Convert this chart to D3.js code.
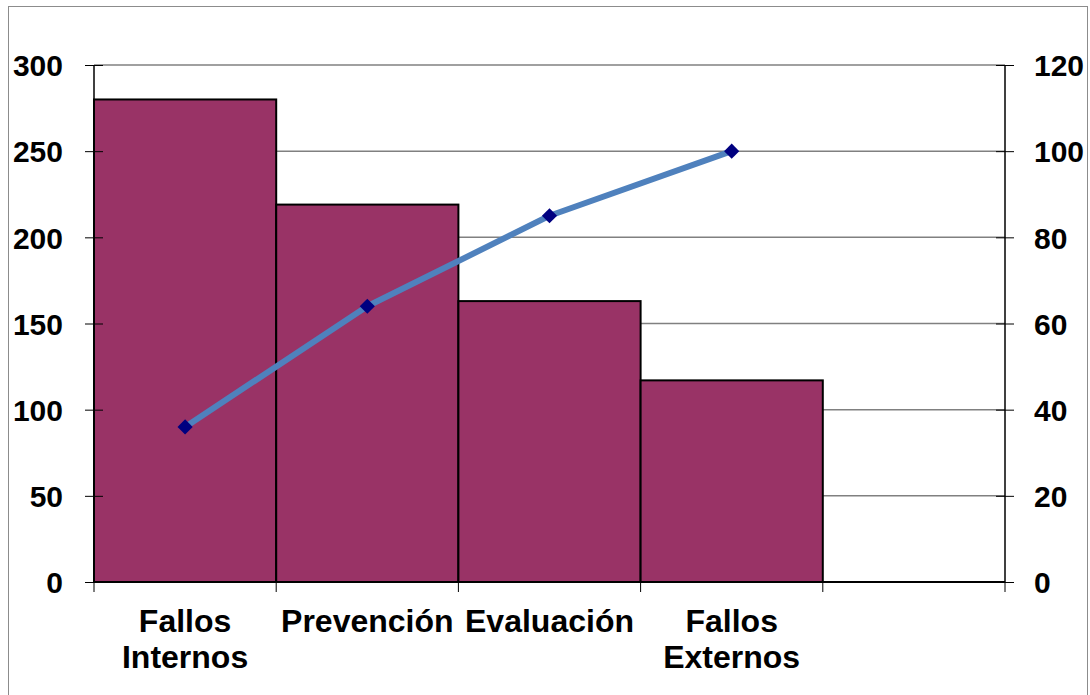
<!DOCTYPE html>
<html>
<head>
<meta charset="utf-8">
<script src="https://cdn.jsdelivr.net/npm/d3@7"></script>
<style>
  html, body { margin: 0; padding: 0; background: #ffffff; }
  svg { display: block; }
  text { font-family: "Liberation Sans", Arial, sans-serif; font-weight: bold; fill: #000; }
</style>
</head>
<body>
<svg id="chart" width="1090" height="695"></svg>
<script>
// Costes de calidad: barras por categoría y porcentaje acumulado (Pareto)
const categories = ["Fallos Internos", "Prevención", "Evaluación", "Fallos Externos", ""];
const categoryLines = [["Fallos", "Internos"], ["Prevención"], ["Evaluación"], ["Fallos", "Externos"], []];
const costs = [280, 219, 163, 117];
const cumulativePct = [36, 64, 85, 100];
const leftTicks = [0, 50, 100, 150, 200, 250, 300];
const rightTicks = [0, 20, 40, 60, 80, 100, 120];

const svg = d3.select("#chart");
const plot = { left: 94, right: 1005, top: 65, bottom: 582 };

// Chart frame
svg.append("rect")
  .attr("x", 8.5).attr("y", 6.5)
  .attr("width", 1079).attr("height", 700)
  .attr("fill", "#fff").attr("stroke", "#8c8c8c").attr("stroke-width", 1);

const x = d3.scaleBand().domain(categories).range([plot.left, plot.right]).paddingInner(0).paddingOuter(0);
const yL = d3.scaleLinear().domain([0, 300]).range([plot.bottom, plot.top]);
const yR = d3.scaleLinear().domain([0, 120]).range([plot.bottom, plot.top]);

// Horizontal gridlines
svg.append("g").selectAll("line").data(leftTicks.filter(d => d > 0)).join("line")
  .attr("x1", plot.left).attr("x2", plot.right)
  .attr("y1", d => yL(d)).attr("y2", d => yL(d))
  .attr("stroke", "#808080").attr("stroke-width", 1.5);

// Bars
svg.append("g").selectAll("rect").data(costs).join("rect")
  .attr("x", (d, i) => x(categories[i]))
  .attr("y", d => yL(d))
  .attr("width", x.bandwidth())
  .attr("height", d => yL(0) - yL(d))
  .attr("fill", "#993366")
  .attr("stroke", "#000").attr("stroke-width", 2);

// Left axis
const axL = svg.append("g").attr("transform", `translate(${plot.left},0)`)
  .call(d3.axisLeft(yL).tickValues(leftTicks).tickSize(9));
axL.select(".domain").attr("stroke", "#000").attr("stroke-width", 1.5).attr("d", `M0,${plot.top}V${plot.bottom}`);
axL.selectAll(".tick line").attr("stroke", "#000").attr("x2", -9).attr("x1", 9);
axL.selectAll(".tick text").attr("font-size", 30).attr("font-family", "Liberation Sans, Arial, sans-serif")
  .attr("font-weight", "bold").attr("fill", "#000").attr("x", -31).attr("dy", "0.36em");

// Right axis
const axR = svg.append("g").attr("transform", `translate(${plot.right},0)`)
  .call(d3.axisRight(yR).tickValues(rightTicks).tickSize(9));
axR.select(".domain").attr("stroke", "#000").attr("stroke-width", 1.5).attr("d", `M0,${plot.top}V${plot.bottom}`);
axR.selectAll(".tick line").attr("stroke", "#000").attr("x1", -9).attr("x2", 9);
axR.selectAll(".tick text").attr("font-size", 30).attr("font-family", "Liberation Sans, Arial, sans-serif")
  .attr("font-weight", "bold").attr("fill", "#000").attr("x", 29).attr("dy", "0.36em");

// Bottom axis line with tick marks at band boundaries
const bounds = categories.map(c => x(c)).concat([plot.right]);
const axB = svg.append("g");
axB.append("line").attr("x1", plot.left).attr("x2", plot.right)
  .attr("y1", plot.bottom).attr("y2", plot.bottom)
  .attr("stroke", "#000").attr("stroke-width", 2);
axB.selectAll("line.tk").data(bounds).join("line").attr("class", "tk")
  .attr("x1", d => d).attr("x2", d => d)
  .attr("y1", plot.bottom).attr("y2", plot.bottom + 10)
  .attr("stroke", "#000").attr("stroke-width", 1);

// Category labels
const labels = axB.selectAll("text.cat").data(categoryLines).join("text").attr("class", "cat")
  .attr("text-anchor", "middle")
  .attr("font-size", 32)
  .attr("x", (d, i) => x(categories[i]) + x.bandwidth() / 2)
  .attr("y", 632);
labels.selectAll("tspan").data(d => d).join("tspan")
  .attr("x", function () { return d3.select(this.parentNode).attr("x"); })
  .attr("dy", (d, i) => i === 0 ? 0 : 36)
  .text(d => d);

// Cumulative percentage line
const cx = i => x(categories[i]) + x.bandwidth() / 2;
const line = d3.line().x((d, i) => cx(i)).y(d => yR(d));
svg.append("path").datum(cumulativePct)
  .attr("d", line)
  .attr("fill", "none")
  .attr("stroke", "#4F81BD")
  .attr("stroke-width", 6)
  .attr("stroke-linejoin", "round");

// Diamond markers
const diamond = d3.symbol().type(d3.symbolSquare).size(115);
svg.append("g").selectAll("path").data(cumulativePct).join("path")
  .attr("d", diamond)
  .attr("transform", (d, i) => `translate(${cx(i)},${yR(d)}) rotate(45)`)
  .attr("fill", "#000080");
</script>
</body>
</html>
